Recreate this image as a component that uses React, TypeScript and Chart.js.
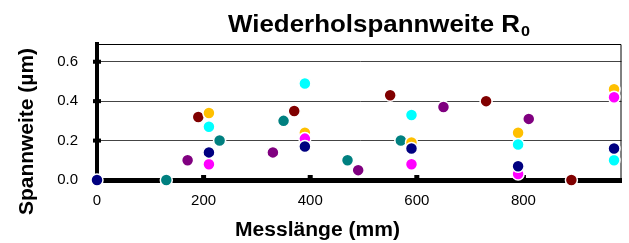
import React, { useEffect, useRef } from 'react';
import { Chart, registerables } from 'chart.js';

Chart.register(...registerables);

// Axis ticks
const X_TICKS = [0, 200, 400, 600, 800];
const Y_TICKS = [0.0, 0.2, 0.4, 0.6];
const X_MAX = 984;
const Y_MAX = 0.69;

// Series (Messlänge in mm, Spannweite in µm)
const navyX = [0, 210, 390, 590, 790, 970];
const navyY = [0.0, 0.14, 0.17, 0.16, 0.07, 0.16];
const magentaX = [210, 390, 590, 790, 970];
const magentaY = [0.08, 0.21, 0.08, 0.03, 0.42];
const cyanX = [210, 390, 590, 790, 970];
const cyanY = [0.27, 0.49, 0.33, 0.18, 0.1];
const orangeX = [210, 390, 590, 790, 970];
const orangeY = [0.34, 0.24, 0.19, 0.24, 0.46];
const tealX = [130, 230, 350, 470, 570];
const tealY = [0.0, 0.2, 0.3, 0.1, 0.2];
const purpleX = [170, 330, 490, 650, 810];
const purpleY = [0.1, 0.14, 0.05, 0.37, 0.31];
const darkRedX = [190, 370, 550, 730, 890];
const darkRedY = [0.32, 0.35, 0.43, 0.4, 0.0];

const TITLE = 'Wiederholspannweite R';
const TITLE_SUB = '0';
const X_TITLE = 'Messlänge (mm)';
const Y_TITLE = 'Spannweite (µm)';

const FONT = '"Liberation Sans", Arial, Helvetica, sans-serif';

const textPlugin = {
  id: 'customText',
  beforeDatasetsDraw(chart: any) {
    const { ctx, chartArea } = chart;
    ctx.save();
    // thin frame top/right
    ctx.strokeStyle = '#000';
    ctx.lineWidth = 1;
    ctx.beginPath();
    ctx.moveTo(chartArea.left, Math.round(chartArea.top) + 0.5);
    ctx.lineTo(chartArea.right - 0.5, Math.round(chartArea.top) + 0.5);
    ctx.lineTo(chartArea.right - 0.5, chartArea.bottom);
    ctx.stroke();
    // tick marks
    ctx.fillStyle = '#000';
    const ys = chart.scales.y;
    ys.ticks.forEach((t: any) => {
      if (t.value === 0) return;
      const py = ys.getPixelForValue(t.value);
      ctx.fillRect(chartArea.left - 4, py - 2, 8, 4);
    });
    const xs = chart.scales.x;
    xs.ticks.forEach((t: any) => {
      if (t.value === 0) return;
      const px = xs.getPixelForValue(t.value);
      ctx.fillRect(px - 2.5, chartArea.bottom - 5, 5, 5);
    });
    ctx.restore();
  },
  afterDraw(chart: any) {
    const { ctx } = chart;
    ctx.save();
    ctx.fillStyle = '#000';
    ctx.textBaseline = 'alphabetic';
    ctx.textAlign = 'left';
    // Title
    ctx.font = `bold 24px ${FONT}`;
    const w = ctx.measureText(TITLE).width;
    const sx = 292 / w;
    ctx.save();
    ctx.translate(228, 32);
    ctx.scale(sx, 1);
    ctx.fillText(TITLE, 0, 0);
    ctx.font = `bold 15px ${FONT}`;
    ctx.fillText(TITLE_SUB, w + 1, 4);
    ctx.restore();
    // X title
    ctx.font = `bold 20px ${FONT}`;
    const wx = ctx.measureText(X_TITLE).width;
    ctx.save();
    ctx.translate(235, 236);
    ctx.scale(165 / wx, 1);
    ctx.fillText(X_TITLE, 0, 0);
    ctx.restore();
    // Y title
    const wy = ctx.measureText(Y_TITLE).width;
    ctx.save();
    ctx.translate(33, 215);
    ctx.rotate(-Math.PI / 2);
    ctx.scale(167 / wy, 1);
    ctx.fillText(Y_TITLE, 0, 0);
    ctx.restore();
    ctx.restore();
  },
};

function series(label: string, xs: number[], ys: number[], color: string) {
  return {
    label,
    data: xs.map((x, i) => ({ x, y: ys[i] })),
    backgroundColor: color,
    borderColor: '#fff',
    pointBackgroundColor: color,
    pointBorderColor: '#fff',
    pointRadius: 6,
    pointBorderWidth: 1.5,
    pointHoverRadius: 6,
    showLine: false,
    clip: false,
  };
}

export default function App() {
  const ref = useRef<HTMLCanvasElement>(null);
  useEffect(() => {
    document.body.style.margin = '0';
    const canvas = ref.current!;
    const chart = new Chart(canvas, {
      type: 'scatter',
      data: {
        datasets: [
          series('Reihe 1', navyX, navyY, '#000080'),
          series('Reihe 2', magentaX, magentaY, '#FF00FF'),
          series('Reihe 3', cyanX, cyanY, '#00FFFF'),
          series('Reihe 4', orangeX, orangeY, '#FFC000'),
          series('Reihe 5', tealX, tealY, '#008080'),
          series('Reihe 6', purpleX, purpleY, '#800080'),
          series('Reihe 7', darkRedX, darkRedY, '#800000'),
        ] as any,
      },
      options: {
        animation: false,
        responsive: false,
        maintainAspectRatio: false,
        layout: { padding: { top: 44, right: 3, left: 0, bottom: 0 } },
        plugins: {
          legend: { display: false },
          tooltip: { enabled: false },
          title: { display: false },
        },
        scales: {
          x: {
            type: 'linear',
            min: 0,
            max: X_MAX,
            afterBuildTicks: (s: any) => {
              s.ticks = X_TICKS.map((v) => ({ value: v }));
            },
            afterFit: (s: any) => {
              s.height = 63;
            },
            grid: { display: true, drawOnChartArea: false, drawTicks: false },
            border: { display: true, color: '#000', width: 5 },
            ticks: {
              padding: 12,
              maxRotation: 0,
              autoSkip: false,
              color: '#000',
              font: { family: FONT, size: 15 },
              callback: (v: any) => String(v),
            },
          },
          y: {
            type: 'linear',
            min: 0,
            max: Y_MAX,
            afterBuildTicks: (s: any) => {
              s.ticks = Y_TICKS.map((v) => ({ value: v }));
            },
            afterFit: (s: any) => {
              s.width = 97;
            },
            grid: {
              color: (c: any) => (c.tick && c.tick.value === 0 ? 'rgba(0,0,0,0)' : '#444'),
              lineWidth: 1,
              drawTicks: false,
            },
            border: { display: true, color: '#000', width: 4 },
            ticks: {
              padding: 19,
              color: '#000',
              font: { family: FONT, size: 15 },
              callback: (v: any) => Number(v).toFixed(1),
            },
          },
        },
      } as any,
      plugins: [textPlugin],
    });
    return () => chart.destroy();
  }, []);
  return (
    <div style={{ width: 629, height: 243 }}>
      <canvas ref={ref} width={629} height={243} style={{ display: 'block' }} />
    </div>
  );
}
